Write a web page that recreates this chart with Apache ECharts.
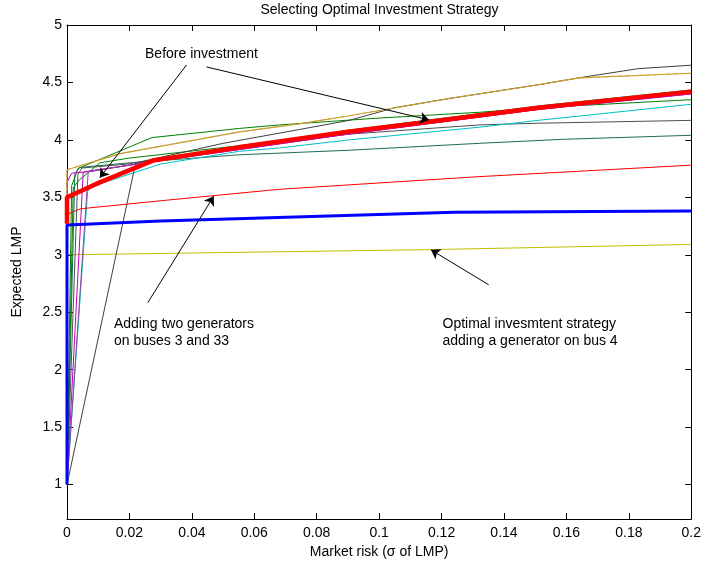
<!DOCTYPE html>
<html>
<head>
<meta charset="utf-8">
<script src="https://cdn.jsdelivr.net/npm/echarts@6/dist/echarts.min.js"></script>
<style>
html,body{margin:0;padding:0;background:#fff;}
#chart{width:704px;height:572px;}
</style>
</head>
<body>
<div id="chart"></div>
<script>
// ---- data (x = market risk, y = expected LMP) ----
const xTicks = [0, 0.02, 0.04, 0.06, 0.08, 0.1, 0.12, 0.14, 0.16, 0.18, 0.2];
const yTicks = [1, 1.5, 2, 2.5, 3, 3.5, 4, 4.5, 5];

const yellowLine = [[0,1.0],[0,3.0],[0.117,3.045],[0.2,3.09]];
const tealLine = [[0,1.0],[0.0025,3.7],[0.004,3.76],[0.02,3.80],[0.055,3.87],[0.0904,3.91],[0.132,3.97],[0.159,4.005],[0.2,4.04]];
const gray2Line = [[0,1.0],[0.0035,3.70],[0.0048,3.755],[0.0195,3.79],[0.05,3.92],[0.068,3.98],[0.0904,4.05],[0.132,4.13],[0.151,4.145],[0.2,4.17]];
const cyanLine = [[0,1.0],[0.0066,3.55],[0.0075,3.59],[0.03,3.79],[0.055,3.90],[0.068,3.93],[0.0904,4.0],[0.132,4.11],[0.151,4.17],[0.2,4.31]];
const greenTopLine = [[0,1.0],[0.0015,3.6],[0.0035,3.75],[0.0272,4.02],[0.0553,4.10],[0.068,4.13],[0.1,4.19],[0.132,4.24],[0.151,4.28],[0.2,4.35]];
const green2Line = [[0,1.0],[0.002,3.58],[0.0035,3.64],[0.0105,3.80],[0.0195,3.84],[0.0553,3.95],[0.0744,4.02],[0.0904,4.085],[0.1224,4.195],[0.151,4.295],[0.2,4.435]];
const magentaLine = [[0,1.0],[0.0052,3.72],[0.0085,3.735],[0.02,3.78],[0.03,3.82],[0.055,3.915],[0.09,4.05],[0.151,4.265],[0.2,4.40]];
const magenta2Line = [[0,1.0],[0,3.63],[0.0015,3.71],[0.0075,3.725],[0.02,3.78],[0.03,3.82],[0.055,3.915],[0.09,4.05],[0.151,4.265],[0.2,4.40]];
const purpleLine = [[0,1.0],[0.0068,3.72],[0.0105,3.74],[0.027,3.81],[0.055,3.92],[0.09,4.055],[0.151,4.27],[0.2,4.41]];
const grayTopLine = [[0,1.0],[0.022,3.80],[0.05,3.97],[0.0744,4.09],[0.0904,4.17],[0.105,4.28],[0.1224,4.36],[0.151,4.48],[0.164,4.54],[0.183,4.62],[0.2,4.65]];
const orangeLine = [[0,1.0],[0,3.74],[0.017,3.88],[0.0553,4.07],[0.0744,4.14],[0.0904,4.21],[0.1224,4.36],[0.151,4.48],[0.164,4.54],[0.2,4.58]];
const redThinLine = [[0,1.0],[0,3.35],[0.0042,3.40],[0.03,3.47],[0.068,3.57],[0.132,3.68],[0.2,3.78]];
const optimalLine = [[0,1.0],[0,3.26],[0.03,3.295],[0.124,3.37],[0.2,3.38]];
const beforeLine = [[0,3.27],[0,3.5],[0.0105,3.63],[0.0275,3.82],[0.055,3.935],[0.09,4.07],[0.1224,4.18],[0.151,4.28],[0.2,4.42]];

// annotations (data coordinates)
const arrowFrom = [[0.0383,4.652],[0.0447,4.635],[0.0259,2.583],[0.1351,2.739]];
const arrowTo   = [[0.0105,3.67],[0.116,4.174],[0.047,3.51],[0.1166,3.043]];
const noteText = ['Before investment', 'Adding two generators\non buses 3 and 33', 'Optimal invesmtent strategy\nadding a generator on bus 4'];
const noteAnchor = [[0.025,4.743],[0.01504,2.40],[0.1203,2.40]];

const FONT = '"Liberation Sans", Arial, Helvetica, sans-serif';

function thin(name, data, color, width, dash) {
  return {
    name: name, type: 'line', data: data, showSymbol: false, symbol: 'none',
    clip: false, silent: true,
    lineStyle: { color: color, width: width || 1, type: dash || 'solid' },
    emphasis: { disabled: true }
  };
}

const series = [
  thin('y', yellowLine, '#bfbf00'),
  thin('teal', tealLine, '#1f6a5e'),
  thin('gray2', gray2Line, '#505050'),
  thin('cyan', cyanLine, '#00bfbf'),
  thin('greenTop', greenTopLine, '#008000'),
  thin('green2', green2Line, '#008000'),
  thin('magenta', magentaLine, '#bf00bf'),
  thin('magenta2', magenta2Line, '#bf00bf'),
  thin('purple', purpleLine, '#8a4a9a'),
  thin('grayTop', grayTopLine, '#404040'),
  thin('orange', orangeLine, '#cc9448', 1.2),
  thin('orangeY', orangeLine, '#c8b400', 1, [3, 4]),
  thin('redThin', redThinLine, '#ff0000'),
  thin('optimal', optimalLine, '#0000ff', 3),
  thin('before', beforeLine, '#ff0000', 4.5)
];

series[0].markLine = {
  silent: true,
  symbol: ['none', 'arrow'],
  symbolSize: 9,
  label: { show: false },
  lineStyle: { color: '#000', width: 1, type: 'solid' },
  emphasis: { disabled: true },
  data: arrowFrom.map((p, i) => [{ coord: p }, { coord: arrowTo[i] }])
};

const chart = echarts.init(document.getElementById('chart'), null, { renderer: 'canvas' });

const axisCommon = {
  axisLine: { show: true, onZero: false, lineStyle: { color: '#000', width: 1 } },
  splitLine: { show: false }
};

const option = {
  animation: false,
  backgroundColor: '#fff',
  textStyle: { fontFamily: FONT },
  grid: { left: 67, right: 12, top: 25, bottom: 53, containLabel: false },
  xAxis: [
    Object.assign({
      type: 'value', position: 'bottom', min: 0, max: 0.2, interval: 0.02,
      axisTick: { inside: true, length: 6, lineStyle: { color: '#000' } },
      axisLabel: { color: '#000', fontSize: 14, fontFamily: FONT, margin: 7,
        formatter: v => String(+v.toFixed(2)) },
      name: 'Market risk (\u03c3 of LMP)', nameLocation: 'middle', nameGap: 23,
      nameTextStyle: { color: '#000', fontSize: 14, fontFamily: FONT }
    }, axisCommon),
    Object.assign({
      type: 'value', position: 'top', min: 0, max: 0.2, interval: 0.02,
      axisTick: { inside: true, length: 6, lineStyle: { color: '#000' } },
      axisLabel: { show: false }
    }, axisCommon)
  ],
  yAxis: [
    Object.assign({
      type: 'value', position: 'left', min: 0.7, max: 5,
      axisTick: { inside: true, length: 6, customValues: yTicks, lineStyle: { color: '#000' } },
      axisLabel: { color: '#000', fontSize: 14, fontFamily: FONT, margin: 5, customValues: yTicks,
        formatter: v => String(+(+v).toFixed(2)) },
      name: 'Expected LMP', nameLocation: 'middle', nameGap: 43,
      nameTextStyle: { color: '#000', fontSize: 14, fontFamily: FONT }
    }, axisCommon),
    Object.assign({
      type: 'value', position: 'right', min: 0.7, max: 5,
      axisTick: { inside: true, length: 6, customValues: yTicks, lineStyle: { color: '#000' } },
      axisLabel: { show: false, customValues: yTicks }
    }, axisCommon)
  ],
  series: series
};

chart.setOption(option);

// title and annotation text, positioned from data coordinates
const graphics = [{
  type: 'text',
  x: (67 + 692) / 2, y: 10,
  style: { text: 'Selecting Optimal Investment Strategy', fill: '#000',
    font: '14px ' + FONT, textAlign: 'center', align: 'center',
    textVerticalAlign: 'middle', verticalAlign: 'middle' },
  silent: true
}];
noteText.forEach((t, i) => {
  const p = chart.convertToPixel({ gridIndex: 0 }, noteAnchor[i]);
  graphics.push({
    type: 'text', x: p[0], y: p[1] - 8.5,
    style: { text: t, fill: '#000', font: '14px ' + FONT, lineHeight: 17,
      textAlign: 'left', align: 'left', textVerticalAlign: 'top', verticalAlign: 'top' },
    silent: true
  });
});
chart.setOption({ graphic: graphics });
</script>
</body>
</html>
